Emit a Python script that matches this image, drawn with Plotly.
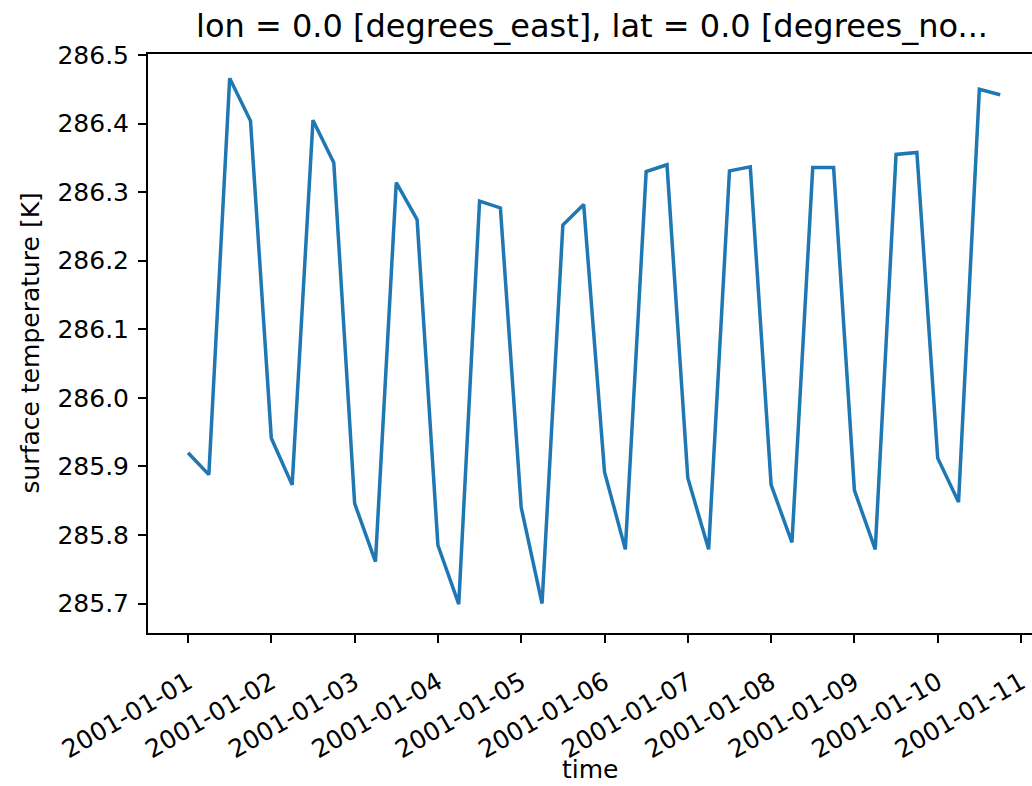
import pandas as pd
import plotly.graph_objects as go

# ---- data ----
times = pd.date_range("2001-01-01 00:00", periods=40, freq="6h")
surface_temperature = [
    285.920, 285.888, 286.466, 286.404,
    285.941, 285.873, 286.405, 286.343,
    285.846, 285.761, 286.314, 286.260,
    285.785, 285.699, 286.287, 286.277,
    285.840, 285.700, 286.252, 286.282,
    285.892, 285.779, 286.330, 286.340,
    285.883, 285.779, 286.331, 286.337,
    285.873, 285.789, 286.336, 286.336,
    285.865, 285.779, 286.355, 286.358,
    285.912, 285.848, 286.450, 286.442,
]
x_tick_labels = ["2001-01-%02d" % d for d in range(1, 12)]
y_tick_values = [285.7, 285.8, 285.9, 286.0, 286.1, 286.2, 286.3, 286.4, 286.5]

title_text = "lon = 0.0 [degrees_east], lat = 0.0 [degrees_no..."
y_label = "surface temperature [K]"
x_label = "time"

FONT = "DejaVu Sans"
W, H = 1032, 786
L, R, T, B = 148, 0, 54, 153
PW, PH = W - L - R, H - T - B

fig = go.Figure()
fig.add_trace(go.Scatter(
    x=times, y=surface_temperature, mode="lines",
    line=dict(color="#1f77b4", width=3.5),
    showlegend=False,
))

fig.update_layout(
    width=W, height=H,
    margin=dict(l=L, r=R, t=T, b=B, pad=0),
    paper_bgcolor="white", plot_bgcolor="white",
    font=dict(family=FONT, size=25, color="black"),
    showlegend=False,
)

fig.update_xaxes(
    range=["2000-12-31 12:28", "2001-01-11 03:10"],
    tickmode="array",
    tickvals=pd.to_datetime(x_tick_labels),
    ticktext=x_tick_labels,
    tickangle=-30,
    ticks="outside", ticklen=8, tickwidth=2, tickcolor="black",
    ticklabelstandoff=15,
    showline=True, linecolor="black", linewidth=2, mirror=True,
    showgrid=False, zeroline=False,
    tickfont=dict(family=FONT, size=25, color="black"),
)
fig.update_yaxes(
    range=[285.657, 286.5015],
    tickmode="array",
    tickvals=y_tick_values,
    ticktext=["%.1f" % v for v in y_tick_values],
    ticks="outside", ticklen=8, tickwidth=2, tickcolor="black",
    ticklabelstandoff=4,
    showline=True, linecolor="black", linewidth=2, mirror=False,
    showgrid=False, zeroline=False,
    tickfont=dict(family=FONT, size=25, color="black"),
)

# title
fig.add_annotation(
    text=title_text, xref="paper", yref="paper",
    x=(592 - L) / PW, y=1 + (T - 26) / PH,
    xanchor="center", yanchor="middle", showarrow=False,
    font=dict(family=FONT, size=32, color="black"),
)
# y label
fig.add_annotation(
    text=y_label, xref="paper", yref="paper",
    x=-(L - 30) / PW, y=0.5,
    xanchor="center", yanchor="middle", textangle=-90, showarrow=False,
    font=dict(family=FONT, size=25, color="black"),
)
# x label
fig.add_annotation(
    text=x_label, xref="paper", yref="paper",
    x=(590 - L) / PW, y=-(H - T - PH - 0.5) / PH,
    xanchor="center", yanchor="bottom", borderpad=0, showarrow=False,
    font=dict(family=FONT, size=25, color="black"),
)

fig.write_html(
    "out.html",
    config={"displayModeBar": False},
    post_script="document.body.style.margin='0';document.body.style.overflow='hidden';",
)
